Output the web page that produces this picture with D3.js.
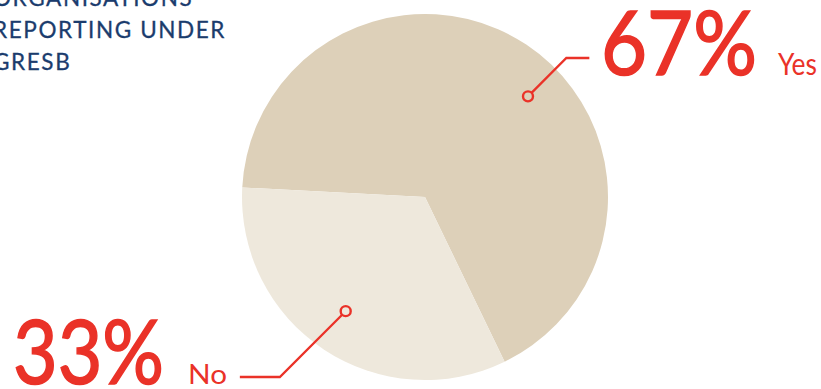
<!DOCTYPE html>
<html>
<head>
<meta charset="utf-8">
<script src="https://cdn.jsdelivr.net/npm/d3@7/dist/d3.min.js"></script>
<style>
  html, body { margin: 0; padding: 0; background: #ffffff; }
  svg { display: block; }
</style>
</head>
<body>
<svg id="chart" width="821" height="389"></svg>
<script>
// Share of organisations reporting under GRESB
const categories = ["Yes", "No"];
const values = [67, 33];
const valueLabels = ["67%", "33%"];
const titleLines = ["ORGANISATIONS", "REPORTING UNDER", "GRESB"];

const sliceColors = ["#ddd0b9", "#eee8dc"];
const accent = "#ea3228";
const navy = "#1b3c6d";
const font = "Lato, 'Open Sans', sans-serif";

const svg = d3.select("#chart");
const cx = 425, cy = 197, radius = 183;
const deg = Math.PI / 180;

// Pie layout, keeping the data order; the first slice starts just above 9 o'clock
const pie = d3.pie()
  .sort(null)
  .value(d => d.value)
  .startAngle(-87 * deg)
  .endAngle(-87 * deg + 2 * Math.PI);

const data = categories.map((c, i) => ({ category: c, value: values[i], label: valueLabels[i], color: sliceColors[i] }));
const arcs = pie(data);
const arc = d3.arc().innerRadius(0).outerRadius(radius);

const g = svg.append("g").attr("transform", `translate(${cx},${cy})`);
g.selectAll("path.slice")
  .data(arcs)
  .enter().append("path")
  .attr("class", "slice")
  .attr("d", arc)
  .attr("fill", d => d.data.color);

// Callout placement: marker angle within the slice (fraction of its span), marker radius,
// level and length of the horizontal leader, and the boxes of the big value and the category word.
const callouts = [
  { frac: 0.55, r: 144, lineY: 58, run: 23, side: 1,
    big: { x: 601, w: 156, base: 75 }, small: { x: 778, w: 39, base: 75, size: 30 } },
  { frac: 0.51, r: 139, lineY: 377, run: 40, side: -1,
    big: { x: 13, w: 151, base: 384 }, small: { x: 188, w: 39, base: 384, size: 27 } }
];

arcs.forEach((a, i) => {
  const c = callouts[i];
  const ang = a.startAngle + (a.endAngle - a.startAngle) * c.frac;
  const mx = cx + Math.sin(ang) * c.r;
  const my = cy - Math.cos(ang) * c.r;
  const dy = c.lineY - my;
  const ex = mx + c.side * Math.abs(dy);
  const hx = ex + c.side * c.run;
  const markerR = 5;
  const sx = mx + c.side * markerR * Math.SQRT1_2;
  const sy = my + Math.sign(dy) * markerR * Math.SQRT1_2;

  svg.append("path")
    .attr("d", `M${sx},${sy}L${ex},${c.lineY}L${hx},${c.lineY}`)
    .attr("fill", "none")
    .attr("stroke", accent)
    .attr("stroke-width", 2.3);

  svg.append("circle")
    .attr("cx", mx).attr("cy", my).attr("r", markerR)
    .attr("fill", a.data.color)
    .attr("stroke", accent)
    .attr("stroke-width", 2.4);

  svg.append("text")
    .attr("x", c.big.x).attr("y", c.big.base)
    .attr("font-family", font)
    .attr("font-size", 90)
    .attr("fill", accent)
    .attr("stroke", accent)
    .attr("stroke-width", 1.6)
    .attr("textLength", c.big.w)
    .attr("lengthAdjust", "spacingAndGlyphs")
    .text(a.data.label);

  svg.append("text")
    .attr("x", c.small.x).attr("y", c.small.base)
    .attr("font-family", font)
    .attr("font-size", c.small.size)
    .attr("fill", accent)
    .attr("textLength", c.small.w)
    .attr("lengthAdjust", "spacingAndGlyphs")
    .text(a.data.category);
});

// Title block, running off the top-left corner
const title = svg.append("text")
  .attr("fill", navy)
  .attr("stroke", navy)
  .attr("stroke-width", 0.3)
  .attr("font-family", font)
  .attr("font-size", 22.5)
  .attr("letter-spacing", 1.6);
titleLines.forEach((line, i) => {
  title.append("tspan").attr("x", -7).attr("y", 5.5 + i * 32).text(line);
});
</script>
</body>
</html>
